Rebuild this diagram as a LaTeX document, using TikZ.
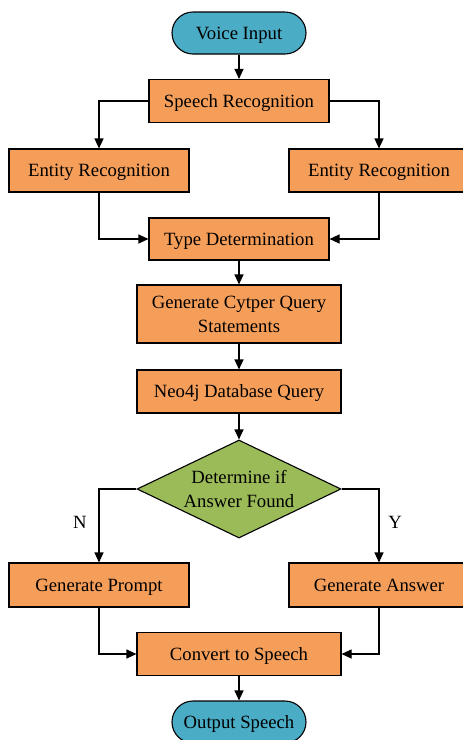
\documentclass[tikz,border=0pt]{standalone}
\usepackage{fontspec}
\setmainfont{Liberation Serif}
\usetikzlibrary{arrows.meta,shapes.geometric}
\definecolor{boxorange}{RGB}{245,158,90}
\definecolor{termblue}{RGB}{75,172,198}
\definecolor{decgreen}{RGB}{155,187,89}
\begin{document}
\begin{tikzpicture}[x=1pt,y=-1pt,
  every node/.style={font=\fontsize{18.7}{24}\selectfont, text=black},
  basebox/.style={draw=black, line width=1.1pt, fill=boxorange, minimum height=43pt, inner sep=0pt, align=center},
  procbox/.style={basebox, text height=15pt, text depth=2.5pt},
  termbox/.style={draw=black, line width=1.1pt, fill=termblue, minimum width=134pt, minimum height=42pt, rounded corners=21pt, inner sep=0pt, text height=15pt, text depth=2.5pt},
  decbox/.style={draw=black, line width=1.1pt, fill=decgreen, diamond, aspect=2.08, minimum width=204pt, minimum height=98pt, inner sep=0pt, align=center},
  conn/.style={draw=black, line width=1.1pt, -{Triangle[length=10pt,width=9pt]}},
  lbl/.style={font=\fontsize{18.7}{23}\selectfont}
]
\useasboundingbox (0,0) rectangle (463,740);
\node[termbox] (vi) at (239,33) {Voice Input};
\node[procbox, minimum width=180pt] (sr) at (239,101) {Speech Recognition};
\node[procbox, minimum width=180pt] (er1) at (99,170.5) {Entity Recognition};
\node[procbox, minimum width=180pt] (er2) at (379,170.5) {Entity Recognition};
\node[procbox, minimum width=180pt, minimum height=42pt] (td) at (239,239) {Type Determination};
\node[basebox, minimum width=204pt, minimum height=58pt] (gc) at (239,314) {Generate Cytper Query\\Statements};
\node[procbox, minimum width=204pt] (nq) at (239,391.5) {Neo4j Database Query};
\node[decbox] (dec) at (239,489) {Determine if\\Answer Found};
\node[procbox, minimum width=180pt, minimum height=44pt] (gp) at (99,585) {Generate Prompt};
\node[procbox, minimum width=180pt, minimum height=44pt] (ga) at (379,585) {Generate Answer};
\node[procbox, minimum width=204pt] (cs) at (239,654) {Convert to Speech};
\node[termbox] (os) at (239,722) {Output Speech};

\draw[conn] (vi) -- (sr);
\draw[conn] (sr.west) -| (er1.north);
\draw[conn] (sr.east) -| (er2.north);
\draw[conn] (er1.south) |- (td.west);
\draw[conn] (er2.south) |- (td.east);
\draw[conn] (td) -- (gc);
\draw[conn] (gc) -- (nq);
\draw[conn] (nq) -- (dec);
\draw[conn] (dec.west) -| (gp.north);
\draw[conn] (dec.east) -| (ga.north);
\draw[conn] (gp.south) |- (cs.west);
\draw[conn] (ga.south) |- (cs.east);
\draw[conn] (cs) -- (os);
\node[lbl] (nlab) at (80,522) {N};
\node[lbl] (ylab) at (395,522) {Y};
\end{tikzpicture}
\end{document}
